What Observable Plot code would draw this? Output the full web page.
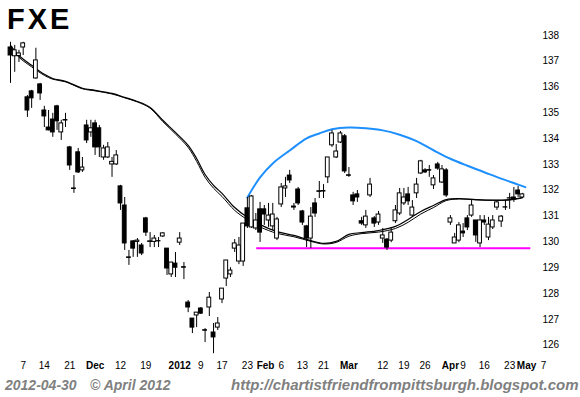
<!DOCTYPE html>
<html><head><meta charset="utf-8">
<script src="https://cdn.jsdelivr.net/npm/d3@7"></script>
<script src="https://cdn.jsdelivr.net/npm/@observablehq/plot@0.6"></script>
<style>
body{margin:0;background:#fff;width:580px;height:397px;overflow:hidden;position:relative;font-family:"Liberation Sans",Arial,sans-serif}
#chart{position:absolute;left:0;top:0}
#title{position:absolute;left:7px;top:5px;font-size:29px;font-weight:bold;line-height:1;letter-spacing:3px;color:#000}
#footer{position:absolute;left:0;top:374px;width:580px;height:23px;color:#808080;font-weight:bold;font-style:italic;font-size:14px;line-height:1}
#footer span{position:absolute;top:4px;white-space:nowrap}
</style></head><body>
<div id="chart"></div>
<div id="title">FXE</div>
<div id="footer"><span style="left:5px">2012-04-30</span><span style="left:90px">© April 2012</span><span style="left:231px;font-size:15px;top:3px">http://chartistfriendfrompittsburgh.blogspot.com</span></div>
<script>
// Daily candles (trading-day index 0..121), Nov 2011 - Apr 30 2012
const opens = [137.53,137.19,137.20,137.53,135.60,135.83,136.33,136.10,135.09,134.43,
134.74,135.25,134.24,134.70,133.66,132.07,133.47,132.77,134.51,134.24,
134.59,134.40,133.27,133.27,133.00,133.00,132.15,131.41,129.40,130.02,
130.00,129.86,130.91,130.02,130.00,130.03,130.21,129.74,128.74,129.16,
129.97,129.02,127.65,127.03,127.15,127.42,126.58,127.46,126.49,126.68,
127.77,128.58,128.74,129.74,129.24,129.24,131.30,130.56,130.52,131.26,
131.26,130.83,130.60,130.13,131.45,132.07,132.57,131.37,132.03,131.18,
130.60,130.13,131.49,131.96,131.95,132.50,133.74,133.27,133.85,134.09,
132.58,131.80,131.84,130.80,130.64,131.80,130.91,130.75,130.13,130.09,
130.05,130.80,131.10,131.49,131.84,131.02,131.88,132.65,132.77,132.78,
132.19,133.00,132.30,132.77,130.75,129.94,130.05,130.40,130.91,131.02,
130.83,129.94,130.83,130.17,130.56,131.33,130.79,131.34,131.69,131.72,
131.99,131.72];
const highs = [137.73,137.61,137.42,137.73,135.67,135.87,137.50,136.14,135.25,135.09,
134.98,135.29,134.71,134.98,133.70,132.57,133.62,133.27,134.71,134.71,
134.71,134.51,133.74,133.85,133.27,133.54,132.19,131.72,129.67,130.05,
130.13,129.94,130.95,130.36,130.25,130.17,130.36,129.74,129.20,129.59,
130.36,129.20,127.73,127.03,127.26,127.46,126.64,128.04,126.84,127.07,
128.19,129.28,129.00,130.09,130.17,130.71,131.72,131.80,131.10,131.53,
131.41,131.49,131.49,130.95,132.26,132.50,132.77,131.49,132.11,131.22,
130.64,131.33,131.68,132.34,132.22,133.27,134.32,133.77,134.28,134.16,
132.88,131.92,131.99,130.95,131.22,132.46,130.98,131.18,130.52,130.13,
130.56,131.41,132.07,132.07,132.11,131.60,132.46,133.16,132.84,132.96,
132.57,133.08,132.96,132.84,131.02,130.33,130.75,130.71,131.02,131.64,
130.83,131.02,131.02,130.95,131.02,131.60,131.02,131.60,131.88,132.11,
132.15,131.88];
const lows = [136.14,136.57,136.95,137.22,134.82,135.17,136.30,135.48,134.43,134.30,
134.05,134.32,133.93,134.43,132.77,131.88,132.65,132.69,133.81,134.05,
133.35,133.27,133.16,133.23,132.50,132.96,131.22,129.67,129.09,129.40,
129.40,129.47,130.21,129.78,129.78,129.78,130.17,128.70,128.62,128.62,
129.86,128.54,127.26,126.45,126.68,127.19,126.10,127.11,125.67,126.57,
127.61,128.27,128.62,129.59,129.12,129.05,130.52,130.52,130.44,129.98,
130.64,130.56,130.44,130.05,131.33,131.72,132.26,131.22,131.41,130.64,
129.78,129.74,130.95,131.68,131.68,132.26,133.66,133.23,133.81,132.65,
132.50,131.41,131.53,130.64,130.52,131.72,130.56,130.64,129.94,129.67,
129.97,130.71,131.02,131.41,131.41,130.95,131.68,132.61,132.65,132.50,
132.03,132.77,132.26,131.72,130.64,129.94,129.97,130.17,130.44,130.95,
129.98,129.78,130.64,130.05,130.48,131.22,130.56,131.22,131.26,131.53,
131.72,131.68];
const closes = [137.22,137.42,137.30,137.69,135.09,135.56,137.03,135.75,134.86,134.32,
134.24,134.67,134.59,134.72,132.96,132.05,132.69,132.88,133.93,134.40,
133.66,133.66,133.62,133.66,133.10,133.35,131.49,129.94,129.38,129.74,
130.05,129.55,130.36,130.00,130.13,130.02,130.33,128.97,129.20,129.00,
130.13,129.00,127.46,126.68,127.26,127.22,126.56,127.84,126.30,126.84,
128.19,129.28,128.89,129.94,129.86,130.71,130.60,131.76,130.83,130.36,
131.06,131.02,131.06,130.87,132.11,132.15,132.38,131.33,131.49,130.75,
130.13,130.98,131.10,131.94,131.97,133.27,134.20,133.50,134.20,132.73,
132.56,131.57,131.72,130.71,130.98,132.22,130.71,131.06,130.25,129.78,
130.36,131.22,131.88,131.72,131.57,131.33,132.22,133.12,132.69,132.76,
132.46,132.84,132.81,131.80,130.91,130.17,130.64,130.33,130.56,131.41,
130.25,130.83,130.75,130.67,130.83,131.53,130.98,131.33,131.68,131.64,
131.84,131.84];

// Moving averages (read at sample candles)
const maIdx = [0,2,5,8,10,13,17,20,24,27,30,33,36,39,42,44,46,48,50,53,56,59,63,67,71,74,77,80,83,87,91,94,97,100,103,106,110,114,118,121];
const ma1 = [137.61,137.22,136.84,136.49,136.33,136.22,135.95,135.87,135.75,135.60,135.44,135.21,134.71,134.24,133.74,133.23,132.61,132.19,131.88,131.33,130.95,130.67,130.40,130.25,130.05,129.94,130.02,130.29,130.36,130.44,130.60,130.87,131.18,131.41,131.64,131.68,131.64,131.62,131.64,131.72];
const ma2 = [137.55,137.15,136.78,136.45,136.30,136.20,135.93,135.85,135.73,135.58,135.42,135.18,134.66,134.18,133.66,133.12,132.50,132.08,131.76,131.22,130.86,130.58,130.33,130.20,130.02,129.92,129.98,130.22,130.32,130.38,130.52,130.76,131.08,131.33,131.60,131.66,131.63,131.61,131.62,131.70];

// Hand-drawn resistance arc (blue)
const arcIdx = [56,59,62,66,70,73,76,80,84,88,92,96,100,104,108,112,116,120,121.7];
const arcVal = [131.72,132.50,133.04,133.54,134.01,134.20,134.36,134.43,134.40,134.32,134.15,133.90,133.55,133.22,132.95,132.70,132.45,132.22,132.12];

// Support line (magenta)
const supportLevel = 129.75, supportFrom = 58.2, supportTo = 123;

const yTicks = [126,127,128,129,130,131,132,133,134,135,136,137,138];
const dayTickIdx = [3,8,14,26,32,45,50,56,64,69,74,88,93,98,107,112,118,126];
const dayTickLabels = ["7","14","21","12","19","9","17","23","6","13","21","12","19","26","9","16","23","7"];
const monthTickIdx = [20,40,60.3,80,104,122];
const monthTickLabels = ["Dec","2012","Feb","Mar","Apr","May"];

const candles = opens.map((o,i)=>({i, o, h:highs[i], l:lows[i], c:closes[i]}));
const up = candles.filter(d=>d.c>=d.o), down = candles.filter(d=>d.c<d.o);
const maData = maIdx.map((x,k)=>({x, a:ma1[k], b:ma2[k]}));
const arc = arcIdx.map((x,k)=>({x, y:arcVal[k]}));
const dayTicks = dayTickIdx.map((x,k)=>({x, t:dayTickLabels[k]}));
const monthTicks = monthTickIdx.map((x,k)=>({x, t:monthTickLabels[k]}));

const chart = Plot.plot({
  width:580, height:375, marginTop:0, marginBottom:20, marginLeft:0, marginRight:45,
  x:{domain:[-2.364,124.11], axis:null},
  y:{domain:[125.6,139.35], axis:null},
  style:{fontFamily:"'Liberation Sans', Arial, sans-serif", fontSize:"10px", background:"white", color:"black"},
  marks:[
    Plot.axisY({anchor:"right", ticks:yTicks, tickSize:0, tickPadding:7, tickFormat:d=>String(d), label:null, fontSize:10}),
    Plot.text(dayTicks, {x:"x", text:"t", frameAnchor:"bottom", dy:13, fontSize:10, fill:"black"}),
    Plot.text(monthTicks, {x:"x", text:"t", frameAnchor:"bottom", dy:13, fontSize:10, fontWeight:"bold", fill:"black"}),
    Plot.ruleY([{y:supportLevel, x1:supportFrom, x2:supportTo}], {y:"y", x1:"x1", x2:"x2", stroke:"#ff00ff", strokeWidth:2}),
    Plot.line(maData, {x:"x", y:"a", curve:"catmull-rom", stroke:"black", strokeWidth:1.2}),
    Plot.line(maData, {x:"x", y:"b", curve:"catmull-rom", stroke:"black", strokeWidth:1}),
    Plot.line(arc, {x:"x", y:"y", curve:"catmull-rom", stroke:"#1e8fff", strokeWidth:2}),
    Plot.ruleX(candles, {x:"i", y1:"l", y2:"h", stroke:"black", strokeWidth:1}),
    Plot.rect(up, {x1:d=>d.i-0.45, x2:d=>d.i+0.45, y1:"o", y2:"c", fill:"white", stroke:"black", strokeWidth:1}),
    Plot.rect(down, {x1:d=>d.i-0.45, x2:d=>d.i+0.45, y1:"o", y2:"c", fill:"black", stroke:"black", strokeWidth:1})
  ]
});
document.getElementById("chart").appendChild(chart);
</script>
</body></html>
